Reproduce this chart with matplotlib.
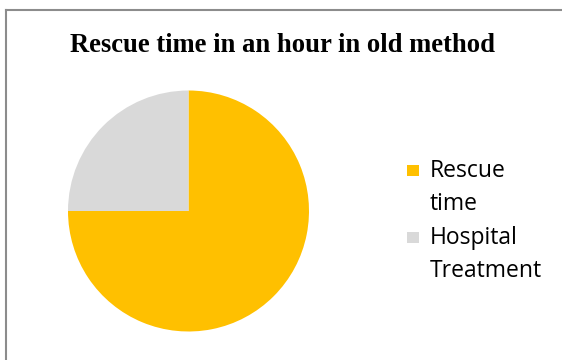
import matplotlib.pyplot as plt
from matplotlib.patches import Rectangle
from matplotlib.lines import Line2D

# 数据
labels = ["Rescue\ntime", "Hospital\nTreatment"]
values = [75, 25]
colors = ["#FFC000", "#D9D9D9"]
title = "Rescue time in an hour in old method"

W, H = 562, 360
fig = plt.figure(figsize=(W / 100, H / 100), dpi=100)

# 边框（左侧和上侧可见）
fig.add_artist(Line2D([6.5 / W, 6.5 / W], [0, 1 - 9.5 / H], transform=fig.transFigure,
                      color="#8c8c8c", lw=1.5))
fig.add_artist(Line2D([6.5 / W, 1], [1 - 9.5 / H, 1 - 9.5 / H], transform=fig.transFigure,
                      color="#8c8c8c", lw=1.5))

# 饼图：中心 (188.5, 211)，半径 120
cx, cy, r = 188.5, 211, 120.5
ax = fig.add_axes([(cx - r) / W, 1 - (cy + r) / H, 2 * r / W, 2 * r / H])
ax.pie(values, colors=colors, startangle=90, counterclock=False,
       wedgeprops=dict(linewidth=0))
ax.set_aspect("auto")
ax.set_xlim(-1, 1)
ax.set_ylim(-1, 1)
ax.axis("off")

fig.text(283 / W, 1 - 46 / H, title, ha="center", va="center",
         fontsize=19.2, fontweight="bold", family="Liberation Serif")

# 图例（手动绘制，方块与第一行对齐）
y0 = 171
for i, (lab, col) in enumerate(zip(labels, colors)):
    y = y0 + i * 67
    fig.add_artist(Rectangle((407 / W, 1 - (y + 5) / H), 12 / W, 11 / H,
                             transform=fig.transFigure, color=col, lw=0))
    for j, line in enumerate(lab.split("\n")):
        fig.text(430 / W, 1 - (y + j * 33) / H, line, ha="left", va="center",
                 fontsize=16.5, family="Open Sans", color="#000000")

fig.savefig("out.png", dpi=100)
